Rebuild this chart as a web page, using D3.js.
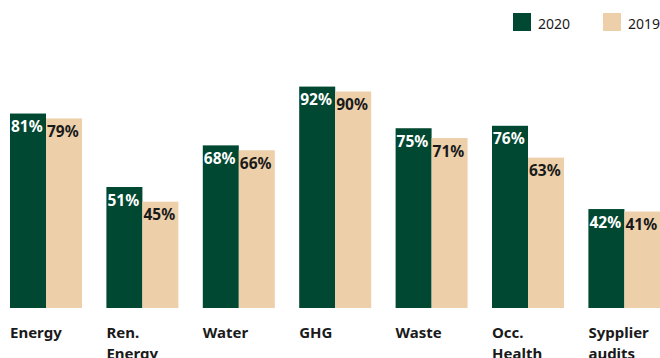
<!DOCTYPE html>
<html><head><meta charset="utf-8">
<script src="https://cdn.jsdelivr.net/npm/d3@7"></script>
<style>html,body{margin:0;padding:0;background:#fff;overflow:hidden}</style>
</head><body>
<svg id="chart" width="660" height="358"></svg>
<script>
const categories = [["Energy"],["Ren.","Energy"],["Water"],["GHG"],["Waste"],["Occ.","Health"],["Sypplier","audits"]];
const series = ["2020","2019"];
const values2020 = [81,51,68,92,75,76,42];
const values2019 = [79,45,66,90,71,63,41];
const colors = ["#004831","#EDD0AA"];
const textColors = ["#ffffff","#1a1a1a"];

const svg = d3.select("#chart");
const font = "'Noto Sans','Open Sans',sans-serif";
const x = d3.scaleBand().domain(d3.range(categories.length)).range([10,660.4]).paddingInner(0.2531).paddingOuter(0);
const xs = d3.scaleBand().domain(series).range([0,x.bandwidth()]);
const y = d3.scaleLinear().domain([1.6,100]).range([308,67]);
const data = [values2020, values2019];

const g = svg.append("g");
categories.forEach((c,i)=>{
  const grp = g.append("g").attr("transform",`translate(${x(i)},0)`);
  series.forEach((s,j)=>{
    const v = data[j][i];
    grp.append("rect").attr("x",xs(s)).attr("y",y(v)).attr("width",xs.bandwidth()).attr("height",y.range()[0]-y(v)).attr("fill",colors[j]);
    grp.append("text").attr("x",xs(s)+1).attr("y",y(v)+18.5).attr("fill",textColors[j])
      .attr("font-family",font).attr("font-weight",700).attr("font-size",15.5).text(v+"%");
  });
  const t = grp.append("text").attr("x",0).attr("y",337.5).attr("fill","#1a1a1a")
    .attr("font-family",font).attr("font-weight",700).attr("font-size",15);
  c.forEach((line,k)=>t.append("tspan").attr("x",0).attr("dy",k?21:0).text(line));
});

// legend
const legX = [513,603];
series.forEach((s,j)=>{
  svg.append("rect").attr("x",legX[j]).attr("y",13).attr("width",18).attr("height",18).attr("fill",colors[j]);
  svg.append("text").attr("x",legX[j]+25).attr("y",29).attr("fill","#1a1a1a")
    .attr("font-family",font).attr("font-size",14).text(s);
});
</script>
</body></html>
